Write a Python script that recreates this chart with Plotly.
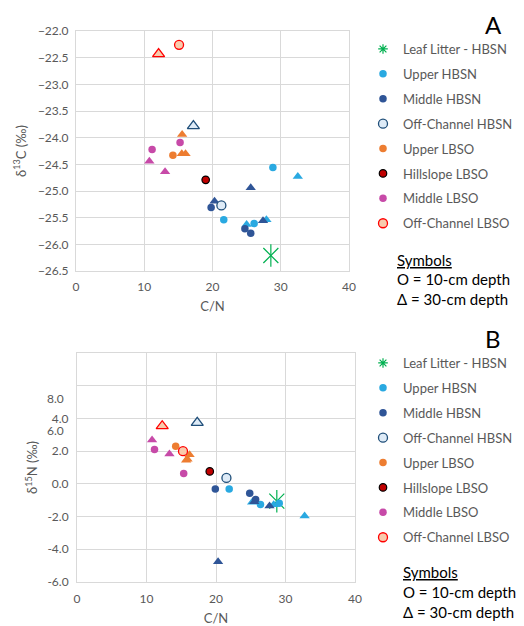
import plotly.graph_objects as go

# ---------------- Data: panel A (delta13C vs C/N) ----------------
leaf_cn_a = [28.55]
leaf_d13c = [-26.21]
uh_cn_a_10 = [28.85, 21.65, 26.1]
uh_d13c_10 = [-24.56, -25.54, -25.61]
uh_cn_a_30 = [32.5, 27.9, 25.0]
uh_d13c_30 = [-24.73, -25.54, -25.63]
mh_cn_a_10 = [19.8, 24.75, 25.6]
mh_d13c_10 = [-25.31, -25.71, -25.79]
mh_cn_a_30 = [25.6, 20.3, 27.4]
mh_d13c_30 = [-24.94, -25.19, -25.56]
oh_cn_a_10 = [21.3]
oh_d13c_10 = [-25.27]
oh_cn_a_30 = [17.2]
oh_d13c_30 = [-23.78]
ul_cn_a_10 = [14.2]
ul_d13c_10 = [-24.33]
ul_cn_a_30 = [15.55, 15.5, 16.05]
ul_d13c_30 = [-23.94, -24.3, -24.3]
hl_cn_a_10 = [19.0]
hl_d13c_10 = [-24.79]
ml_cn_a_10 = [15.25, 11.15]
ml_d13c_10 = [-24.09, -24.22]
ml_cn_a_30 = [10.75, 13.05]
ml_d13c_30 = [-24.44, -24.64]
ol_cn_a_10 = [15.1]
ol_d13c_10 = [-22.26]
ol_cn_a_30 = [12.1]
ol_d13c_30 = [-22.43]

# ---------------- Data: panel B (delta15N vs C/N) ----------------
leaf_cn_b = [28.75]
leaf_d15n = [-1.06]
uh_cn_b_10 = [29.1, 21.9, 26.4]
uh_d15n_10 = [-1.18, -0.32, -1.26]
uh_cn_b_30 = [32.75, 28.3, 25.2]
uh_d15n_30 = [-1.96, -1.28, -1.12]
mh_cn_b_10 = [19.9, 24.85, 25.7]
mh_d15n_10 = [-0.32, -0.58, -0.96]
mh_cn_b_30 = [25.5, 20.3, 27.7]
mh_d15n_30 = [-1.1, -4.76, -1.36]
oh_cn_b_10 = [21.5]
oh_d15n_10 = [0.36]
oh_cn_b_30 = [17.3]
oh_d15n_30 = [3.74]
ul_cn_b_10 = [14.2]
ul_d15n_10 = [2.3]
ul_cn_b_30 = [16.2, 15.7, 15.9]
ul_d15n_30 = [1.78, 1.44, 1.5]
hl_cn_b_10 = [19.1]
hl_d15n_10 = [0.76]
ml_cn_b_10 = [15.35, 11.15]
ml_d15n_10 = [0.64, 2.1]
ml_cn_b_30 = [10.8, 13.3]
ml_d15n_30 = [2.68, 1.82]
ol_cn_b_10 = [15.25]
ol_d15n_10 = [2.0]
ol_cn_b_30 = [12.26]
ol_d15n_30 = [3.54]

x_ticks = [0, 10, 20, 30, 40]
yA_ticks = [-26.5, -26.0, -25.5, -25.0, -24.5, -24.0, -23.5, -23.0, -22.5, -22.0]
yB_ticks = [-6, -4, -2, 0, 2, 4, 6, 8]
yB_ticktext = ["-6.0", "-4.0", "-2.0", "0.0", "2.0", "4.0", "", ""]
yB_extra_labels = ["6.0", "8.0"]
yB_extra_pos = [3.28, 5.2]

names = ["Leaf Litter - HBSN", "Upper HBSN", "Middle HBSN", "Off-Channel HBSN",
         "Upper LBSO", "Hillslope LBSO", "Middle LBSO", "Off-Channel LBSO"]

# style per series: (fill, line color, line width)
styles = {
    "Upper HBSN": ("#29A9E1", "#29A9E1", 0),
    "Middle HBSN": ("#2F5597", "#2F5597", 0),
    "Off-Channel HBSN": ("#DEEBF7", "#1F4E79", 1.3),
    "Upper LBSO": ("#ED7D31", "#ED7D31", 0),
    "Hillslope LBSO": ("#C00000", "#000000", 1.2),
    "Middle LBSO": ("#C74AA8", "#C74AA8", 0),
    "Off-Channel LBSO": ("#F8CBAD", "#FF0000", 1.3),
}
big = {"Off-Channel HBSN", "Off-Channel LBSO"}
LEAF = "#00B050"

FONT = "Lato"
GRAY = "#595959"
GRID = "#D9D9D9"

fig = go.Figure()

panels = [
    ("x", "y", "legend",
     (leaf_cn_a, leaf_d13c),
     {"Upper HBSN": ((uh_cn_a_10, uh_d13c_10), (uh_cn_a_30, uh_d13c_30)),
      "Middle HBSN": ((mh_cn_a_10, mh_d13c_10), (mh_cn_a_30, mh_d13c_30)),
      "Off-Channel HBSN": ((oh_cn_a_10, oh_d13c_10), (oh_cn_a_30, oh_d13c_30)),
      "Upper LBSO": ((ul_cn_a_10, ul_d13c_10), (ul_cn_a_30, ul_d13c_30)),
      "Hillslope LBSO": ((hl_cn_a_10, hl_d13c_10), ([], [])),
      "Middle LBSO": ((ml_cn_a_10, ml_d13c_10), (ml_cn_a_30, ml_d13c_30)),
      "Off-Channel LBSO": ((ol_cn_a_10, ol_d13c_10), (ol_cn_a_30, ol_d13c_30))}),
    ("x2", "y2", "legend2",
     (leaf_cn_b, leaf_d15n),
     {"Upper HBSN": ((uh_cn_b_10, uh_d15n_10), (uh_cn_b_30, uh_d15n_30)),
      "Middle HBSN": ((mh_cn_b_10, mh_d15n_10), (mh_cn_b_30, mh_d15n_30)),
      "Off-Channel HBSN": ((oh_cn_b_10, oh_d15n_10), (oh_cn_b_30, oh_d15n_30)),
      "Upper LBSO": ((ul_cn_b_10, ul_d15n_10), (ul_cn_b_30, ul_d15n_30)),
      "Hillslope LBSO": ((hl_cn_b_10, hl_d15n_10), ([], [])),
      "Middle LBSO": ((ml_cn_b_10, ml_d15n_10), (ml_cn_b_30, ml_d15n_30)),
      "Off-Channel LBSO": ((ol_cn_b_10, ol_d15n_10), (ol_cn_b_30, ol_d15n_30))}),
]

for xa, ya, lg, leaf, series in panels:
    grp = lg + "_"
    # leaf litter: legend proxy + actual marker (x + vertical line = 6-arm asterisk)
    fig.add_trace(go.Scatter(x=[None], y=[None], mode="markers", name=names[0],
                             legend=lg, legendgroup=grp + "leaf", xaxis=xa, yaxis=ya,
                             marker=dict(symbol="asterisk-open", size=8, color=LEAF,
                                         line=dict(color=LEAF, width=1.2))))
    for sym in ["x-thin-open", "line-ns-open"]:
        fig.add_trace(go.Scatter(x=leaf[0], y=leaf[1], mode="markers", showlegend=False,
                                 legend=lg, legendgroup=grp + "leaf", xaxis=xa, yaxis=ya,
                                 marker=dict(symbol=sym, size=15 if sym == "x-thin-open" else 16,
                                             color=LEAF, line=dict(color=LEAF, width=1.2))))
    for nm in names[1:]:
        fill, lc, lw = styles[nm]
        (c10, c30) = series[nm]
        s = 9 if nm in big else 7.5
        if len(c30[0]):
            fig.add_trace(go.Scatter(x=c30[0], y=c30[1], mode="markers", showlegend=False,
                                     legend=lg, legendgroup=grp + nm, xaxis=xa, yaxis=ya,
                                     marker=dict(symbol="triangle-up", size=s + 1.5, color=fill,
                                                 line=dict(color=lc, width=lw))))
        fig.add_trace(go.Scatter(x=c10[0], y=c10[1], mode="markers", name=nm,
                                 legend=lg, legendgroup=grp + nm, xaxis=xa, yaxis=ya,
                                 marker=dict(symbol="circle", size=s, color=fill,
                                             line=dict(color=lc, width=lw))))

W, H = 524, 626
OFF = 8  # page body margin offset
def px(v): return (v - OFF) / W
def py(v): return 1 - (v - OFF) / H

axis_common = dict(showgrid=True, gridcolor=GRID, gridwidth=1, zeroline=False,
                   showline=True, linecolor=GRID, mirror=True, ticks="",
                   tickfont=dict(family=FONT, size=12, color=GRAY), automargin=False)
tfont = dict(family=FONT, size=13, color=GRAY)

fig.update_layout(
    width=W, height=H, margin=dict(l=0, r=0, t=0, b=0),
    paper_bgcolor="white", plot_bgcolor="white",
    font=dict(family=FONT, color=GRAY),
    xaxis=dict(domain=[px(76), px(349)], anchor="y", range=[0, 40], tickvals=x_ticks,
               ticklabelstandoff=5,
               title=dict(text="C/N", font=tfont, standoff=8), **axis_common),
    yaxis=dict(domain=[py(271), py(31)], anchor="x", range=[-26.5, -22.0], tickvals=yA_ticks,
               tickformat=".1f", ticklabelstandoff=4,
               title=dict(text="δ<sup>13</sup>C (‰)", font=tfont, standoff=8), **axis_common),
    xaxis2=dict(domain=[px(77), px(355)], anchor="y2", range=[0, 40], tickvals=x_ticks,
                ticklabelstandoff=6,
                title=dict(text="C/N", font=tfont, standoff=8), **axis_common),
    yaxis2=dict(domain=[py(582), py(353)], anchor="x2", range=[-6, 8], tickvals=yB_ticks,
                ticktext=yB_ticktext, ticklabelstandoff=5,
                title=dict(text="δ<sup>15</sup>N (‰)", font=tfont, standoff=6), **axis_common),
    legend=dict(x=px(363), y=py(34), xanchor="left", yanchor="top",
                font=dict(family=FONT, size=13, color=GRAY), tracegroupgap=5,
                bgcolor="rgba(0,0,0,0)", itemwidth=30),
    legend2=dict(x=px(363), y=py(348), xanchor="left", yanchor="top",
                 font=dict(family=FONT, size=13, color=GRAY), tracegroupgap=5,
                 bgcolor="rgba(0,0,0,0)", itemwidth=30),
    showlegend=True,
)

fig.add_annotation(text="A", xref="paper", yref="paper", x=px(493), y=1.0,
                   xanchor="center", yanchor="top", showarrow=False,
                   font=dict(family=FONT, size=24, color="#000"))
fig.add_annotation(text="B", xref="paper", yref="paper", x=px(493), y=py(338),
                   xanchor="center", yanchor="middle", showarrow=False,
                   font=dict(family=FONT, size=24, color="#000"))

ann = []
for t, yy in [("<u>Symbols</u>", 260), ("O = 10-cm depth", 279), ("Δ = 30-cm depth", 299)]:
    ann.append(dict(text=t, x=px(395), y=py(yy)))
for t, yy in [("<u>Symbols</u>", 572), ("O = 10-cm depth", 592), ("Δ = 30-cm depth", 612)]:
    ann.append(dict(text=t, x=px(401), y=py(yy)))
for a in ann:
    fig.add_annotation(xref="paper", yref="paper", showarrow=False, xanchor="left",
                       yanchor="middle", font=dict(family=FONT, size=15, color="#000"), **a)

for lab, pos in zip(yB_extra_labels, yB_extra_pos):
    fig.add_annotation(text=lab, xref="paper", yref="y2", x=px(66), y=pos,
                       xanchor="right", yanchor="middle", showarrow=False,
                       font=dict(family=FONT, size=12, color=GRAY))

fig.write_html("out.html")
